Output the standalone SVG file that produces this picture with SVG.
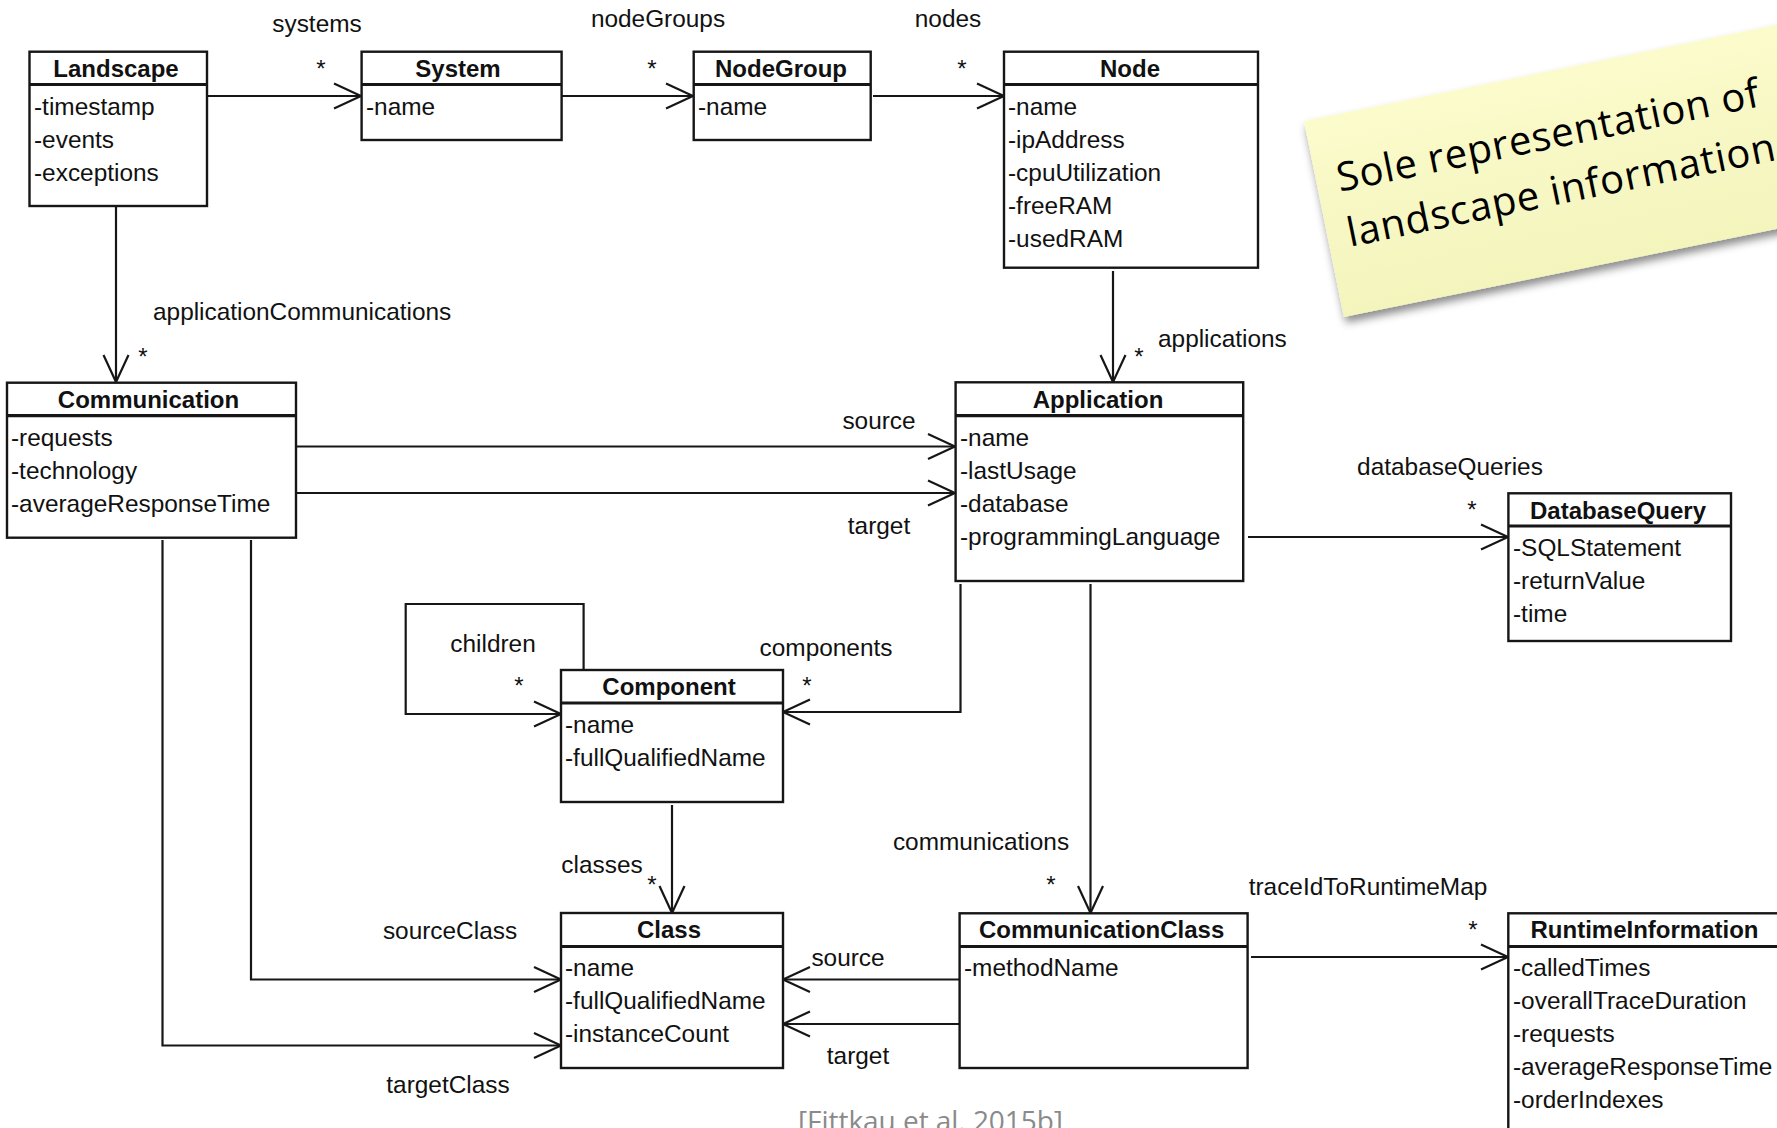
<svg xmlns="http://www.w3.org/2000/svg" width="1777" height="1128" viewBox="0 0 1777 1128">
<style>
.box{fill:#fff;stroke:#161616;stroke-width:2.4}
.hdr{stroke:#161616;stroke-width:3.2}
.title{font-family:"Liberation Sans",Arial,sans-serif;font-size:24px;font-weight:bold;text-anchor:middle;fill:#111}
.attr{font-family:"Liberation Sans",Arial,sans-serif;font-size:24.4px;fill:#111}
.lbl{font-family:"Liberation Sans",Arial,sans-serif;font-size:24.4px;fill:#111;text-anchor:middle}
.star{font-family:"Liberation Sans",Arial,sans-serif;font-size:24px;fill:#111;text-anchor:middle}
.conn{fill:none;stroke:#161616;stroke-width:2.2}
.note{font-family:"Open Sans","Noto Sans",sans-serif;font-size:40px;fill:#000}
</style>
<defs>
<marker id="arr" markerUnits="userSpaceOnUse" viewBox="-30 -15 32 30" refX="0" refY="0" markerWidth="32" markerHeight="30" orient="auto">
<path d="M-27,-12.5 L0,0 L-27,12.5" fill="none" stroke="#161616" stroke-width="2.2"/>
</marker>
<filter id="shadow" x="-10%" y="-10%" width="130%" height="140%">
<feDropShadow dx="1" dy="6" stdDeviation="4" flood-color="#000" flood-opacity="0.45"/>
</filter>
<linearGradient id="noteg" x1="0" y1="0" x2="0" y2="1">
<stop offset="0" stop-color="#fbfbcc"/>
<stop offset="1" stop-color="#f4f4bd"/>
</linearGradient>
</defs>
<rect width="1777" height="1128" fill="#fff"/>

<g id="connectors">
<path class="conn" d="M207,96 H361" marker-end="url(#arr)"/>
<path class="conn" d="M562,96 H693" marker-end="url(#arr)"/>
<path class="conn" d="M873,96 H1004" marker-end="url(#arr)"/>
<path class="conn" d="M1113,271 V382" marker-end="url(#arr)"/>
<path class="conn" d="M116,206 V382" marker-end="url(#arr)"/>
<path class="conn" d="M296,446.5 H955" marker-end="url(#arr)"/>
<path class="conn" d="M296,493 H955" marker-end="url(#arr)"/>
<path class="conn" d="M1248,537 H1508" marker-end="url(#arr)"/>
<path class="conn" d="M960.5,584 V712 H783" marker-end="url(#arr)"/>
<path class="conn" d="M583.6,670 V604 H405.7 V714 H561" marker-end="url(#arr)"/>
<path class="conn" d="M672,805 V913" marker-end="url(#arr)"/>
<path class="conn" d="M1090.5,584 V913" marker-end="url(#arr)"/>
<path class="conn" d="M1251,957 H1508" marker-end="url(#arr)"/>
<path class="conn" d="M959,979.5 H783" marker-end="url(#arr)"/>
<path class="conn" d="M959,1024 H783" marker-end="url(#arr)"/>
<path class="conn" d="M251,540 V979.5 H561" marker-end="url(#arr)"/>
<path class="conn" d="M162.5,540 V1045.5 H561" marker-end="url(#arr)"/>

<text class="lbl" x="317" y="32">systems</text>
<text class="star" x="321" y="77">*</text>
<text class="lbl" x="658" y="27">nodeGroups</text>
<text class="star" x="652" y="77">*</text>
<text class="lbl" x="948" y="27">nodes</text>
<text class="star" x="962" y="77">*</text>
<text class="attr" x="153" y="320">applicationCommunications</text>
<text class="star" x="143" y="365">*</text>
<text class="attr" x="1158" y="347">applications</text>
<text class="star" x="1139" y="365">*</text>
<text class="lbl" x="879" y="429">source</text>
<text class="lbl" x="879" y="534">target</text>
<text class="lbl" x="1450" y="475">databaseQueries</text>
<text class="star" x="1472" y="518">*</text>
<text class="lbl" x="826" y="656">components</text>
<text class="star" x="807" y="694">*</text>
<text class="lbl" x="493" y="652">children</text>
<text class="star" x="519" y="694">*</text>
<text class="lbl" x="602" y="873">classes</text>
<text class="star" x="652" y="893">*</text>
<text class="lbl" x="981" y="850">communications</text>
<text class="star" x="1051" y="893">*</text>
<text class="lbl" x="1368" y="895">traceIdToRuntimeMap</text>
<text class="star" x="1473" y="938">*</text>
<text class="lbl" x="848" y="966">source</text>
<text class="lbl" x="858" y="1064">target</text>
<text class="lbl" x="450" y="939">sourceClass</text>
<text class="lbl" x="448" y="1093">targetClass</text>
</g>

<g id="Landscape">
<rect class="box" x="29.5" y="51.7" width="177.5" height="154.3"/>
<line class="hdr" x1="29.5" y1="84.5" x2="207" y2="84.5"/>
<text class="title" x="116" y="77">Landscape</text>
<text class="attr" x="34" y="115">-timestamp</text>
<text class="attr" x="34" y="148">-events</text>
<text class="attr" x="34" y="181">-exceptions</text>
</g>

<g id="System">
<rect class="box" x="361.6" y="51.7" width="200" height="88.3"/>
<line class="hdr" x1="361.6" y1="84.5" x2="561.6" y2="84.5"/>
<text class="title" x="458" y="77">System</text>
<text class="attr" x="366" y="115">-name</text>
</g>

<g id="NodeGroup">
<rect class="box" x="693.7" y="51.7" width="177" height="88.3"/>
<line class="hdr" x1="693.7" y1="84.5" x2="870.7" y2="84.5"/>
<text class="title" x="781" y="77">NodeGroup</text>
<text class="attr" x="698" y="115">-name</text>
</g>

<g id="Node">
<rect class="box" x="1004" y="51.7" width="254" height="216"/>
<line class="hdr" x1="1004" y1="84.5" x2="1258" y2="84.5"/>
<text class="title" x="1130" y="77">Node</text>
<text class="attr" x="1008" y="115">-name</text>
<text class="attr" x="1008" y="148">-ipAddress</text>
<text class="attr" x="1008" y="181">-cpuUtilization</text>
<text class="attr" x="1008" y="214">-freeRAM</text>
<text class="attr" x="1008" y="247">-usedRAM</text>
</g>

<g id="Communication">
<rect class="box" x="7" y="382.7" width="289" height="155"/>
<line class="hdr" x1="7" y1="415.7" x2="296" y2="415.7"/>
<text class="title" x="148.5" y="408">Communication</text>
<text class="attr" x="11" y="446">-requests</text>
<text class="attr" x="11" y="479">-technology</text>
<text class="attr" x="11" y="512">-averageResponseTime</text>
</g>

<g id="Application">
<rect class="box" x="955.6" y="382.3" width="287.6" height="198.7"/>
<line class="hdr" x1="955.6" y1="415.7" x2="1243.2" y2="415.7"/>
<text class="title" x="1098" y="408">Application</text>
<text class="attr" x="960" y="446">-name</text>
<text class="attr" x="960" y="479">-lastUsage</text>
<text class="attr" x="960" y="512">-database</text>
<text class="attr" x="960" y="545">-programmingLanguage</text>
</g>

<g id="DatabaseQuery">
<rect class="box" x="1508.4" y="493.3" width="222.6" height="147.7"/>
<line class="hdr" x1="1508.4" y1="526" x2="1731" y2="526"/>
<text class="title" x="1618" y="519">DatabaseQuery</text>
<text class="attr" x="1513" y="556">-SQLStatement</text>
<text class="attr" x="1513" y="589">-returnValue</text>
<text class="attr" x="1513" y="622">-time</text>
</g>

<g id="Component">
<rect class="box" x="561" y="670" width="222" height="132"/>
<line class="hdr" x1="561" y1="703" x2="783" y2="703"/>
<text class="title" x="669" y="695">Component</text>
<text class="attr" x="565" y="733">-name</text>
<text class="attr" x="565" y="766">-fullQualifiedName</text>
</g>

<g id="Class">
<rect class="box" x="561" y="913" width="222" height="155"/>
<line class="hdr" x1="561" y1="946.5" x2="783" y2="946.5"/>
<text class="title" x="669" y="938">Class</text>
<text class="attr" x="565" y="976">-name</text>
<text class="attr" x="565" y="1009">-fullQualifiedName</text>
<text class="attr" x="565" y="1042">-instanceCount</text>
</g>

<g id="CommunicationClass">
<rect class="box" x="959.6" y="913.3" width="288" height="154.7"/>
<line class="hdr" x1="959.6" y1="946.5" x2="1247.6" y2="946.5"/>
<text class="title" x="1101.6" y="938">CommunicationClass</text>
<text class="attr" x="964" y="976">-methodName</text>
</g>

<g id="RuntimeInformation">
<rect class="box" x="1508.3" y="913.3" width="300" height="260"/>
<line class="hdr" x1="1508.3" y1="946.5" x2="1790" y2="946.5"/>
<text class="title" x="1644.5" y="938">RuntimeInformation</text>
<text class="attr" x="1513" y="976">-calledTimes</text>
<text class="attr" x="1513" y="1009">-overallTraceDuration</text>
<text class="attr" x="1513" y="1042">-requests</text>
<text class="attr" x="1513" y="1075">-averageResponseTime</text>
<text class="attr" x="1513" y="1108">-orderIndexes</text>
</g>

<g id="note" transform="translate(1304,121) rotate(-11.5)">
<rect x="0" y="0" width="560" height="200" fill="url(#noteg)" filter="url(#shadow)"/>
<text class="note" x="21" y="76.5" textLength="430" lengthAdjust="spacing">Sole representation of</text>
<text class="note" x="20" y="132.5" textLength="436" lengthAdjust="spacing">landscape information</text>
</g>

<g id="citation">
<text x="798" y="1131" font-family="'Open Sans','Noto Sans',sans-serif" font-size="28" fill="#8a8a8a" textLength="265" lengthAdjust="spacing">[Fittkau et al. 2015b]</text>
</g>
</svg>
